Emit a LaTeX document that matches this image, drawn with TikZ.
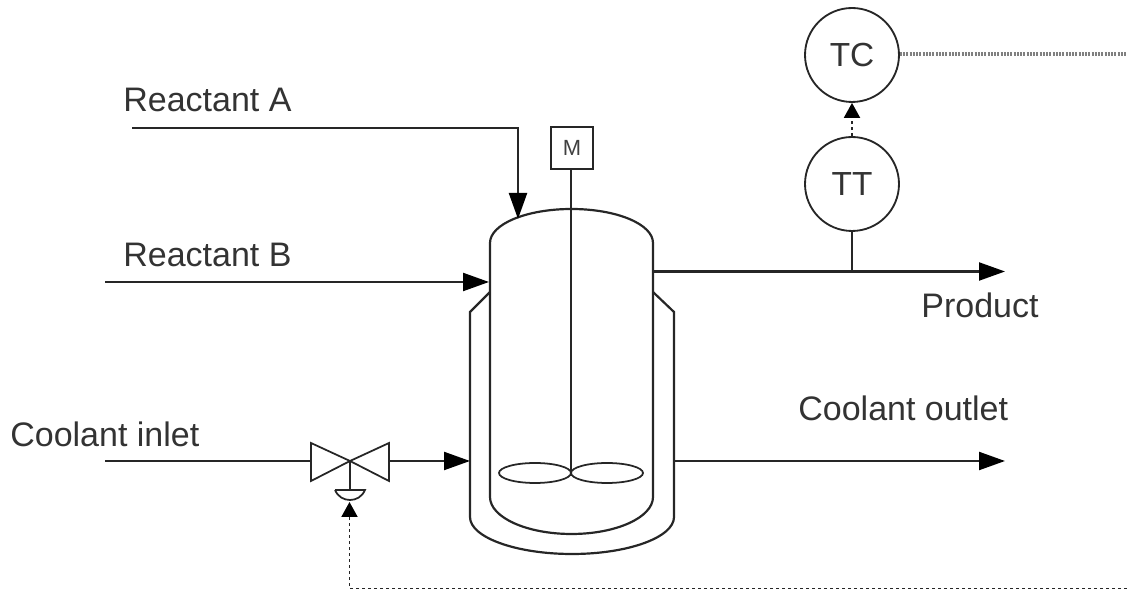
\documentclass[tikz,border=0pt]{standalone}
\usepackage{fontspec}
\setmainfont{Liberation Sans}
\usetikzlibrary{arrows.meta}
\tikzset{
  pipe/.style={line width=1.25pt,draw=black!85},
  thinpipe/.style={line width=1pt,draw=black!85},
  flow/.style={pipe,-{Triangle[length=0.52cm,width=0.36cm,color=black]}},
  signal/.style={line width=1.1pt,draw=black!85,dash pattern=on 0.07cm off 0.05cm,-{Triangle[length=0.3cm,width=0.32cm,color=black]}},
  elec/.style={line width=1.8pt,draw=black!50,dash pattern=on 0.04cm off 0.025cm},
  instr/.style={circle,draw=black!85,line width=1.05pt,minimum size=1.88cm,inner sep=0pt,font=\fontsize{19}{22}\selectfont,text=black!80},
  motor/.style={rectangle,draw=black!85,line width=1.1pt,minimum size=0.84cm,inner sep=0pt,font=\fontsize{12.5}{14}\selectfont,text=black!75},
  lbl/.style={anchor=west,inner sep=0pt,font=\fontsize{19.35}{22}\selectfont,text=black!80}
}
\begin{document}
\begin{tikzpicture}[x=0.02cm,y=-0.02cm]
	\useasboundingbox (0,0) rectangle (1127,590);
	% labels
	\node[lbl] (reactA) at (123,100) {Reactant A};
	\node[lbl] (reactB) at (123,255) {Reactant B};
	\node[lbl] (prod) at (921,305) {Product};
	\node[lbl] (coolout) at (798,408) {Coolant outlet};
	\node[lbl] (coolin) at (10,434) {Coolant inlet};
	% instruments
	\node[instr] (TC) at (852,55) {TC};
	\node[instr] (TT) at (852,184) {TT};
	\node[motor] (M) at (572,148) {M};
	% vessel
	\draw[pipe] (490,497) -- (490,243) .. controls (490,224) and (526.7,209) .. (571.5,209)
		.. controls (616.3,209) and (653,224) .. (653,243) -- (653,497)
		.. controls (653,517.4) and (616.3,534) .. (571.5,534)
		.. controls (526.7,534) and (490,517.4) .. (490,497);
	% jacket
	\draw[pipe] (490,292) -- (470,312) -- (470,517) .. controls (470,537.4) and (516,554) .. (572,554)
		.. controls (628,554) and (674,537.4) .. (674,517) -- (674,312) -- (653,292);
	% agitator
	\coordinate (hub) at (571,473);
	\draw[pipe] (M.south -| hub) -- (hub);
	\draw[thinpipe] (535,473) ellipse [x radius=36,y radius=10];
	\draw[thinpipe] (607,473) ellipse [x radius=36,y radius=10];
	% valve
	\coordinate (valve) at (350,461);
	\coordinate (valveL) at (311,461);
	\coordinate (valveR) at (389,461);
	\coordinate (stem) at (350,490);
	\draw[thinpipe] (valve) -- (311,443) -- (311,481) -- cycle;
	\draw[thinpipe] (valve) -- (389,443) -- (389,481) -- cycle;
	\draw[thinpipe] (valve) -- (stem);
	\draw[thinpipe] (335,490) -- (365,490) .. controls (362,497) and (356,500) .. (350,500)
		.. controls (344,500) and (338,497) .. (335,490);
	% feeds
	\coordinate (startA) at (132,128);
	\coordinate (cornerA) at (518,128);
	\coordinate (endA) at (518,219);
	\coordinate (startB) at (105,282);
	\coordinate (endB) at (489,282);
	\draw[flow] (startA) -- (cornerA) -- (endA);
	\draw[flow] (startB) -- (endB);
	% product
	\coordinate (prodS) at (653,271.5);
	\coordinate (prodE) at (1005,271.5);
	\draw[flow] (prodS) -- (prodE);
	\draw[pipe] (TT.south) -- (TT.south |- prodS);
	% coolant
	\coordinate (coolS) at (105,461);
	\coordinate (jackIn) at (470,461);
	\coordinate (jackOut) at (674,461);
	\coordinate (coolE) at (1005,461);
	\draw[pipe] (coolS) -- (valveL);
	\draw[flow] (valveR) -- (jackIn);
	\draw[flow] (jackOut) -- (coolE);
	% signals
	\coordinate (sigR) at (1127,54);
	\coordinate (sigB) at (1127,588.5);
	\coordinate (sigC) at (349.5,588.5);
	\coordinate (sigV) at (349.5,502);
	\draw[signal] (TT.north) -- (TC.south);
	\draw[elec] (TC.east |- sigR) -- (sigR);
	\draw[signal] (sigB) -- (sigC) -- (sigV);
\end{tikzpicture}
\end{document}
